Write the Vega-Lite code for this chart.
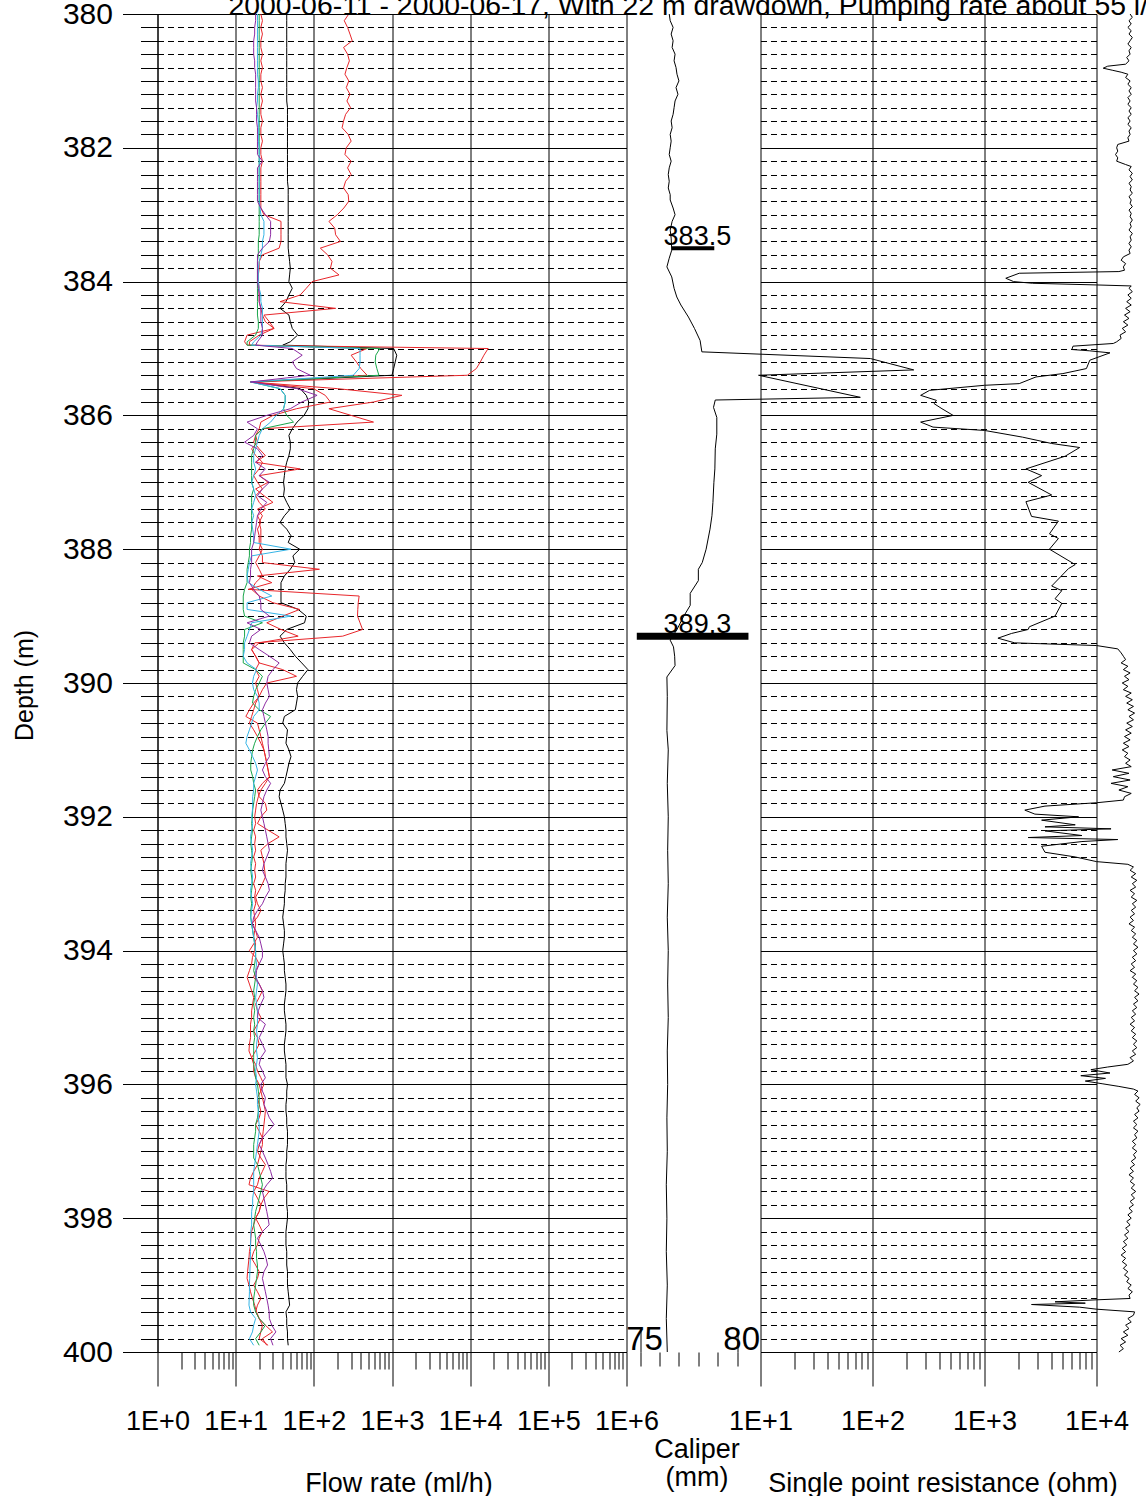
{
"$schema":"https://vega.github.io/schema/vega-lite/v6.json",
"background":"white",
"padding":{"left":11.5,"top":-9,"right":0,"bottom":0},
"title":{"text":"2000-06-11 - 2000-06-17, With 22 m drawdown, Pumping rate about 55 l/min","anchor":"start","frame":"group","dx":71,"offset":-44,"baseline":"alphabetic","fontSize":28.4,"fontWeight":"normal","font":"Liberation Sans","color":"black"},
"config":{"view":{"stroke":null},"font":"Liberation Sans","axis":{"labelFont":"Liberation Sans","titleFont":"Liberation Sans","labelColor":"black","titleColor":"black","tickColor":"black","domainColor":"black","gridColor":"black","gridOpacity":1,"titleFontWeight":"normal","labelFlush":false,"labelOverlap":false,"tickWidth":1,"domainWidth":1,"gridWidth":1}},
"datasets":{
"flow":[
{"d":380.0,"k":45,"ra":280,"rb":21,"g":20,"c":19,"p":18},
{"d":380.1,"k":45,"ra":245,"rb":22,"g":20,"c":19,"p":18},
{"d":380.2,"k":45,"ra":270,"rb":21,"g":20,"c":19,"p":17.5},
{"d":380.3,"k":45,"ra":290,"rb":22,"g":20,"c":19,"p":17.5},
{"d":380.4,"k":45,"ra":310,"rb":21,"g":20,"c":19,"p":17},
{"d":380.5,"k":45,"ra":240,"rb":21,"g":20,"c":19,"p":17},
{"d":380.6,"k":45,"ra":270,"rb":22,"g":20,"c":19,"p":17},
{"d":380.7,"k":45,"ra":285,"rb":21,"g":20,"c":19,"p":17.5},
{"d":380.8,"k":45,"ra":265,"rb":22,"g":20,"c":19,"p":17.5},
{"d":380.9,"k":45,"ra":250,"rb":21,"g":20,"c":19,"p":18},
{"d":381.0,"k":45,"ra":280,"rb":21,"g":20,"c":19.5,"p":18},
{"d":381.1,"k":45,"ra":260,"rb":22,"g":20,"c":19.5,"p":18},
{"d":381.2,"k":45,"ra":290,"rb":21,"g":20,"c":19,"p":18},
{"d":381.3,"k":45,"ra":265,"rb":22,"g":20,"c":19,"p":18},
{"d":381.4,"k":46,"ra":295,"rb":21,"g":20,"c":18.5,"p":18.5},
{"d":381.5,"k":46,"ra":255,"rb":21,"g":20,"c":19,"p":18.5},
{"d":381.6,"k":46,"ra":240,"rb":22,"g":20,"c":19.5,"p":18.5},
{"d":381.7,"k":46,"ra":230,"rb":21,"g":20,"c":19.5,"p":19},
{"d":381.8,"k":46,"ra":275,"rb":21,"g":20,"c":19.5,"p":19},
{"d":381.9,"k":46,"ra":300,"rb":22,"g":20,"c":19.5,"p":19},
{"d":382.0,"k":46,"ra":260,"rb":21,"g":20,"c":20,"p":19},
{"d":382.1,"k":46,"ra":250,"rb":21,"g":20,"c":20,"p":19},
{"d":382.2,"k":46,"ra":300,"rb":22,"g":20,"c":20,"p":22},
{"d":382.3,"k":46,"ra":270,"rb":21,"g":20,"c":20,"p":19},
{"d":382.4,"k":46,"ra":300,"rb":21,"g":20,"c":20,"p":19},
{"d":382.5,"k":46,"ra":255,"rb":21,"g":20,"c":20,"p":19},
{"d":382.6,"k":47,"ra":240,"rb":21,"g":20,"c":20,"p":19},
{"d":382.7,"k":47,"ra":275,"rb":21,"g":20,"c":20,"p":19},
{"d":382.8,"k":47,"ra":280,"rb":21,"g":20,"c":20,"p":19},
{"d":382.9,"k":47,"ra":242,"rb":21,"g":20,"c":20.5,"p":21},
{"d":383.0,"k":47,"ra":200,"rb":23,"g":20,"c":21,"p":24},
{"d":383.1,"k":47,"ra":156,"rb":38,"g":20,"c":23,"p":28},
{"d":383.2,"k":47,"ra":185,"rb":38,"g":20,"c":23,"p":28},
{"d":383.3,"k":47,"ra":190,"rb":38,"g":20,"c":23,"p":28},
{"d":383.4,"k":47,"ra":219,"rb":38,"g":19.5,"c":22,"p":27},
{"d":383.5,"k":47,"ra":121,"rb":36,"g":19.5,"c":22,"p":22},
{"d":383.6,"k":48,"ra":150,"rb":22,"g":19.5,"c":21,"p":19},
{"d":383.7,"k":49,"ra":171,"rb":20,"g":19,"c":20,"p":19},
{"d":383.8,"k":50,"ra":163,"rb":20,"g":19,"c":19.5,"p":19},
{"d":383.9,"k":49,"ra":210,"rb":19.5,"g":19,"c":19.5,"p":19},
{"d":384.0,"k":48,"ra":95,"rb":19.5,"g":19,"c":19.5,"p":19},
{"d":384.1,"k":53,"ra":80,"rb":20,"g":19,"c":20,"p":19.5},
{"d":384.2,"k":48,"ra":67,"rb":20,"g":19,"c":21,"p":20},
{"d":384.3,"k":44,"ra":37,"rb":20,"g":19,"c":21,"p":20},
{"d":384.4,"k":37,"ra":190,"rb":21,"g":19,"c":22,"p":21},
{"d":384.5,"k":48,"ra":23,"rb":22,"g":19,"c":22,"p":21},
{"d":384.6,"k":50,"ra":27,"rb":24,"g":19.5,"c":22,"p":21},
{"d":384.7,"k":53,"ra":31,"rb":31,"g":19.5,"c":22,"p":22},
{"d":384.8,"k":62,"ra":14,"rb":20,"g":18,"c":21,"p":22},
{"d":384.9,"k":50,"ra":13,"rb":15,"g":14,"c":17,"p":19},
{"d":384.95,"k":40,"ra":14,"rb":15,"g":14,"c":16,"p":18},
{"d":385.0,"k":1050,"ra":17000,"rb":480,"g":700,"c":390,"p":53},
{"d":385.1,"k":1150,"ra":15000,"rb":300,"g":620,"c":390,"p":71},
{"d":385.2,"k":1100,"ra":13500,"rb":350,"g":610,"c":390,"p":53},
{"d":385.3,"k":1050,"ra":12000,"rb":400,"g":640,"c":380,"p":60},
{"d":385.4,"k":1000,"ra":9200,"rb":480,"g":680,"c":320,"p":90},
{"d":385.5,"k":16,"ra":15.5,"rb":15.5,"g":15.5,"c":15.5,"p":15.5},
{"d":385.6,"k":67,"ra":200,"rb":99,"g":37,"c":37,"p":61},
{"d":385.7,"k":80,"ra":1340,"rb":140,"g":43,"c":43,"p":110},
{"d":385.8,"k":86,"ra":580,"rb":163,"g":43,"c":43,"p":70},
{"d":385.9,"k":84,"ra":156,"rb":60,"g":41,"c":41,"p":50},
{"d":386.0,"k":75,"ra":300,"rb":30,"g":45,"c":33,"p":25},
{"d":386.1,"k":61,"ra":580,"rb":21,"g":55,"c":28,"p":14},
{"d":386.2,"k":53,"ra":22,"rb":20,"g":22,"c":22,"p":19},
{"d":386.3,"k":48,"ra":18,"rb":18,"g":18,"c":20,"p":17},
{"d":386.4,"k":50,"ra":17,"rb":19,"g":18,"c":19,"p":13},
{"d":386.5,"k":50,"ra":20,"rb":16,"g":17,"c":18,"p":19},
{"d":386.6,"k":48,"ra":24,"rb":18,"g":16,"c":17,"p":22},
{"d":386.7,"k":45,"ra":18,"rb":22,"g":16,"c":17,"p":18},
{"d":386.8,"k":43,"ra":67,"rb":20,"g":16,"c":18,"p":24},
{"d":386.9,"k":42,"ra":20,"rb":17,"g":16,"c":17,"p":20},
{"d":387.0,"k":41,"ra":26,"rb":19,"g":16,"c":16,"p":27},
{"d":387.1,"k":42,"ra":18,"rb":22,"g":17,"c":17,"p":22},
{"d":387.2,"k":41,"ra":23,"rb":18,"g":16,"c":18,"p":19},
{"d":387.3,"k":45,"ra":30,"rb":20,"g":16,"c":17,"p":25},
{"d":387.4,"k":50,"ra":19,"rb":24,"g":16,"c":16,"p":21},
{"d":387.5,"k":42,"ra":22,"rb":19,"g":16,"c":17,"p":19},
{"d":387.6,"k":37,"ra":20,"rb":21,"g":16,"c":16,"p":18.5},
{"d":387.7,"k":45,"ra":21,"rb":19,"g":16,"c":16.5,"p":18},
{"d":387.8,"k":51,"ra":21,"rb":20,"g":15.5,"c":17,"p":17.5},
{"d":387.9,"k":47,"ra":21,"rb":20,"g":15.5,"c":17,"p":17},
{"d":388.0,"k":66,"ra":20,"rb":22,"g":15,"c":51,"p":16},
{"d":388.1,"k":54,"ra":22,"rb":20,"g":15,"c":16,"p":16},
{"d":388.2,"k":57,"ra":22,"rb":18,"g":14.5,"c":15,"p":16},
{"d":388.3,"k":50,"ra":118,"rb":20,"g":14,"c":14.5,"p":15.5},
{"d":388.4,"k":42,"ra":19,"rb":22,"g":14,"c":14,"p":15.5},
{"d":388.5,"k":38,"ra":29,"rb":18,"g":14,"c":14.5,"p":15},
{"d":388.6,"k":38,"ra":14.5,"rb":16,"g":13,"c":20,"p":17},
{"d":388.7,"k":38,"ra":380,"rb":20,"g":12.5,"c":29,"p":20},
{"d":388.8,"k":38,"ra":370,"rb":30,"g":12.5,"c":14,"p":21},
{"d":388.9,"k":63,"ra":365,"rb":66,"g":12.5,"c":14,"p":21},
{"d":389.0,"k":80,"ra":362,"rb":40,"g":13,"c":51,"p":27},
{"d":389.1,"k":76,"ra":390,"rb":25,"g":22,"c":16,"p":14},
{"d":389.2,"k":45,"ra":420,"rb":38,"g":13,"c":15,"p":21},
{"d":389.3,"k":37,"ra":234,"rb":63,"g":13,"c":14,"p":16},
{"d":389.4,"k":42,"ra":17.6,"rb":20,"g":12.5,"c":13,"p":15},
{"d":389.5,"k":50,"ra":16,"rb":16,"g":12.5,"c":13,"p":20},
{"d":389.6,"k":58,"ra":18,"rb":18,"g":12.5,"c":12.5,"p":27},
{"d":389.7,"k":70,"ra":20,"rb":20,"g":12.5,"c":14,"p":36},
{"d":389.8,"k":84,"ra":18,"rb":40,"g":18,"c":18.5,"p":30},
{"d":389.9,"k":72,"ra":20,"rb":60,"g":22,"c":17,"p":26},
{"d":390.0,"k":62,"ra":18,"rb":25,"g":20,"c":16.4,"p":25},
{"d":390.1,"k":60,"ra":19,"rb":22,"g":18,"c":17,"p":26},
{"d":390.2,"k":62,"ra":20,"rb":20,"g":17,"c":19,"p":27},
{"d":390.3,"k":60,"ra":17,"rb":18,"g":16.4,"c":20,"p":24},
{"d":390.4,"k":58,"ra":15,"rb":17,"g":20,"c":20,"p":22},
{"d":390.5,"k":42,"ra":13.5,"rb":16,"g":28,"c":17,"p":23},
{"d":390.6,"k":40,"ra":19,"rb":15,"g":24,"c":16,"p":24},
{"d":390.7,"k":46,"ra":20,"rb":17,"g":21,"c":15,"p":25},
{"d":390.8,"k":45,"ra":21,"rb":19,"g":19,"c":14,"p":26},
{"d":390.9,"k":44,"ra":22,"rb":21,"g":17.5,"c":13.5,"p":26},
{"d":391.0,"k":48,"ra":23,"rb":23,"g":16.5,"c":15,"p":26.5},
{"d":391.1,"k":51,"ra":24,"rb":24,"g":16,"c":16.5,"p":27},
{"d":391.2,"k":48,"ra":25,"rb":25,"g":15.6,"c":18,"p":24},
{"d":391.3,"k":46,"ra":26,"rb":26,"g":15.6,"c":19,"p":22},
{"d":391.4,"k":44,"ra":27,"rb":27,"g":16.5,"c":18,"p":24},
{"d":391.5,"k":42,"ra":22,"rb":24,"g":17,"c":17,"p":28},
{"d":391.6,"k":37,"ra":19,"rb":21,"g":18,"c":17,"p":25},
{"d":391.7,"k":36,"ra":20,"rb":19.5,"g":17.5,"c":16.5,"p":23},
{"d":391.8,"k":38,"ra":24,"rb":18.5,"g":17,"c":16.5,"p":22},
{"d":391.9,"k":40,"ra":25,"rb":18,"g":16.5,"c":16.4,"p":21},
{"d":392.0,"k":42,"ra":21,"rb":17.5,"g":16.4,"c":16,"p":22},
{"d":392.1,"k":43,"ra":19,"rb":18,"g":16,"c":16.5,"p":23},
{"d":392.2,"k":44,"ra":26,"rb":17,"g":16.4,"c":16,"p":24},
{"d":392.3,"k":44,"ra":36,"rb":18,"g":16,"c":15.5,"p":25},
{"d":392.4,"k":45,"ra":26,"rb":17.5,"g":15.6,"c":16,"p":26},
{"d":392.5,"k":46,"ra":21,"rb":18,"g":16,"c":16.5,"p":27},
{"d":392.6,"k":45,"ra":22,"rb":17,"g":16.4,"c":16,"p":25},
{"d":392.7,"k":44,"ra":23,"rb":18,"g":16,"c":15.5,"p":23},
{"d":392.8,"k":44,"ra":23.5,"rb":17.5,"g":15.6,"c":16,"p":22},
{"d":392.9,"k":44,"ra":24,"rb":18,"g":16,"c":16.5,"p":24},
{"d":393.0,"k":43,"ra":22,"rb":17,"g":16.4,"c":16,"p":26},
{"d":393.1,"k":43,"ra":20,"rb":18,"g":16,"c":15.5,"p":27},
{"d":393.2,"k":42,"ra":18,"rb":17.5,"g":15.6,"c":16,"p":24},
{"d":393.3,"k":42,"ra":19,"rb":18,"g":16,"c":16.5,"p":22},
{"d":393.4,"k":41,"ra":21,"rb":17,"g":15.6,"c":16,"p":19},
{"d":393.5,"k":40,"ra":19,"rb":17.5,"g":15.6,"c":15.6,"p":17},
{"d":393.6,"k":41,"ra":16,"rb":18,"g":16,"c":16,"p":16.4},
{"d":393.7,"k":42,"ra":18,"rb":17.5,"g":16.5,"c":16.5,"p":18},
{"d":393.8,"k":42,"ra":19,"rb":17,"g":17,"c":17,"p":20},
{"d":393.9,"k":41,"ra":17,"rb":18,"g":17.5,"c":17.5,"p":21},
{"d":394.0,"k":40,"ra":15,"rb":17.5,"g":18,"c":18,"p":22},
{"d":394.1,"k":41,"ra":18,"rb":16.4,"g":18,"c":18,"p":22},
{"d":394.2,"k":42,"ra":20,"rb":16,"g":17.5,"c":18.5,"p":20},
{"d":394.3,"k":42,"ra":18,"rb":15,"g":17,"c":18,"p":18.5},
{"d":394.4,"k":43,"ra":17,"rb":14,"g":18,"c":18.5,"p":18},
{"d":394.5,"k":44,"ra":20,"rb":15,"g":17.5,"c":19,"p":20},
{"d":394.6,"k":44,"ra":22,"rb":16,"g":17,"c":18.5,"p":22},
{"d":394.7,"k":43,"ra":20,"rb":17,"g":17.5,"c":18,"p":23},
{"d":394.8,"k":42,"ra":18,"rb":16.5,"g":17,"c":18.5,"p":21},
{"d":394.9,"k":42,"ra":19,"rb":16,"g":17.5,"c":19,"p":19.5},
{"d":395.0,"k":43,"ra":21,"rb":16,"g":17,"c":19,"p":19},
{"d":395.1,"k":44,"ra":19,"rb":15.5,"g":17.5,"c":19,"p":24},
{"d":395.2,"k":44,"ra":17,"rb":15.5,"g":17,"c":18.5,"p":22},
{"d":395.3,"k":43,"ra":19,"rb":15.5,"g":17.5,"c":19,"p":20},
{"d":395.4,"k":42,"ra":20,"rb":15,"g":17,"c":18.5,"p":22},
{"d":395.5,"k":42,"ra":18,"rb":14.8,"g":17,"c":18.5,"p":24},
{"d":395.6,"k":43,"ra":16,"rb":16,"g":17,"c":19,"p":21},
{"d":395.7,"k":44,"ra":18,"rb":17,"g":17,"c":18.5,"p":20},
{"d":395.8,"k":44,"ra":19,"rb":17,"g":17.5,"c":18,"p":22},
{"d":395.9,"k":44,"ra":21,"rb":18,"g":18,"c":18.5,"p":24},
{"d":396.0,"k":46,"ra":23,"rb":20,"g":19,"c":18,"p":21},
{"d":396.1,"k":45,"ra":21,"rb":21,"g":19.5,"c":18.5,"p":22},
{"d":396.2,"k":45,"ra":19,"rb":22,"g":20,"c":19,"p":24},
{"d":396.3,"k":44,"ra":20,"rb":23,"g":20,"c":19,"p":23},
{"d":396.4,"k":44,"ra":21,"rb":24,"g":19.5,"c":19.5,"p":25},
{"d":396.5,"k":45,"ra":20,"rb":23.5,"g":19,"c":19.5,"p":27},
{"d":396.6,"k":45,"ra":18,"rb":23,"g":18,"c":20,"p":31},
{"d":396.7,"k":46,"ra":20,"rb":22.5,"g":18,"c":20,"p":26},
{"d":396.8,"k":46,"ra":22,"rb":22,"g":17.5,"c":19.5,"p":22},
{"d":396.9,"k":46,"ra":20,"rb":22,"g":17,"c":19,"p":20},
{"d":397.0,"k":45,"ra":19,"rb":21,"g":17,"c":18.5,"p":22},
{"d":397.1,"k":45,"ra":21,"rb":20,"g":17,"c":18,"p":24},
{"d":397.2,"k":44,"ra":24,"rb":19,"g":19,"c":17.5,"p":26},
{"d":397.3,"k":44,"ra":22,"rb":17,"g":20,"c":17,"p":28},
{"d":397.4,"k":44,"ra":20,"rb":15.5,"g":21,"c":17,"p":29.6},
{"d":397.5,"k":45,"ra":19,"rb":14.8,"g":22,"c":17,"p":25},
{"d":397.6,"k":45,"ra":17,"rb":26.8,"g":21,"c":17,"p":22},
{"d":397.7,"k":45,"ra":19,"rb":23,"g":20,"c":16.5,"p":23},
{"d":397.8,"k":45,"ra":21,"rb":21,"g":19,"c":16.5,"p":24},
{"d":397.9,"k":46,"ra":20,"rb":20,"g":18,"c":16,"p":25},
{"d":398.0,"k":46,"ra":18,"rb":18,"g":17.5,"c":16,"p":26},
{"d":398.1,"k":45,"ra":20,"rb":17,"g":17,"c":16,"p":26.8},
{"d":398.2,"k":44,"ra":22,"rb":16,"g":17.5,"c":15.6,"p":22},
{"d":398.3,"k":44,"ra":20,"rb":15.6,"g":18,"c":15.6,"p":19},
{"d":398.4,"k":44,"ra":19,"rb":15.5,"g":18,"c":15.5,"p":21},
{"d":398.5,"k":45,"ra":17,"rb":15,"g":18.5,"c":15.5,"p":23},
{"d":398.6,"k":45,"ra":16,"rb":14.8,"g":18.5,"c":15.4,"p":24.5},
{"d":398.7,"k":45,"ra":18,"rb":14.5,"g":19,"c":15.3,"p":25.6},
{"d":398.8,"k":46,"ra":20,"rb":14.2,"g":19,"c":15.2,"p":23},
{"d":398.9,"k":46,"ra":19,"rb":14,"g":18.5,"c":15.1,"p":22},
{"d":399.0,"k":46,"ra":17,"rb":14.8,"g":18,"c":15,"p":23},
{"d":399.1,"k":47,"ra":19,"rb":15.5,"g":17.5,"c":15,"p":24},
{"d":399.2,"k":48,"ra":21,"rb":16.4,"g":17,"c":14.9,"p":25},
{"d":399.3,"k":49,"ra":19,"rb":17.5,"g":17,"c":14.8,"p":26},
{"d":399.4,"k":44,"ra":18,"rb":18.5,"g":18,"c":15.5,"p":26.8},
{"d":399.5,"k":45,"ra":20,"rb":20,"g":20,"c":18,"p":27},
{"d":399.6,"k":45,"ra":22,"rb":24,"g":24,"c":17,"p":29},
{"d":399.7,"k":46,"ra":21,"rb":29.6,"g":21,"c":16.4,"p":32.7},
{"d":399.8,"k":46,"ra":20,"rb":22,"g":18,"c":15,"p":28},
{"d":399.9,"k":47,"ra":26,"rb":25,"g":20,"c":17,"p":30}
],
"spr":[
{"d":380.00,"r":19953},{"d":380.05,"r":20893},{"d":380.10,"r":19498},{"d":380.15,"r":20417},{"d":380.20,"r":19055},{"d":380.25,"r":20417},{"d":380.30,"r":19498},{"d":380.35,"r":20893},{"d":380.40,"r":19953},{"d":380.45,"r":19055},{"d":380.50,"r":20417},{"d":380.55,"r":19498},{"d":380.60,"r":19953},{"d":380.65,"r":18621},{"d":380.70,"r":19498},{"d":380.75,"r":18197},{"d":380.78,"r":12589},{"d":380.81,"r":11482},{"d":380.84,"r":13804},{"d":380.87,"r":16596},{"d":380.90,"r":19055},{"d":380.95,"r":18197},
{"d":381.00,"r":19953},{"d":381.05,"r":19055},{"d":381.10,"r":20417},{"d":381.15,"r":19498},{"d":381.20,"r":20417},{"d":381.25,"r":19055},{"d":381.30,"r":19953},{"d":381.35,"r":19055},{"d":381.40,"r":20417},{"d":381.45,"r":19498},{"d":381.50,"r":20417},{"d":381.55,"r":19055},{"d":381.60,"r":19953},{"d":381.65,"r":19055},{"d":381.70,"r":20417},{"d":381.75,"r":19498},{"d":381.80,"r":19953},{"d":381.85,"r":19055},{"d":381.90,"r":19498},{"d":381.95,"r":15488},
{"d":382.00,"r":15136},{"d":382.05,"r":15488},{"d":382.10,"r":14791},{"d":382.15,"r":15488},{"d":382.20,"r":15136},{"d":382.25,"r":18197},{"d":382.28,"r":20417},{"d":382.33,"r":19498},{"d":382.38,"r":20893},{"d":382.43,"r":19953},{"d":382.48,"r":20893},{"d":382.53,"r":19498},{"d":382.58,"r":20417},{"d":382.63,"r":19953},{"d":382.68,"r":20893},{"d":382.73,"r":19498},{"d":382.78,"r":20417},{"d":382.83,"r":19953},{"d":382.88,"r":20893},{"d":382.93,"r":19498},{"d":382.98,"r":20417},
{"d":383.03,"r":19953},{"d":383.08,"r":20893},{"d":383.13,"r":19953},{"d":383.18,"r":20417},{"d":383.23,"r":19498},{"d":383.28,"r":20893},{"d":383.33,"r":19953},{"d":383.38,"r":20417},{"d":383.43,"r":19498},{"d":383.48,"r":20417},{"d":383.53,"r":19498},{"d":383.58,"r":19953},{"d":383.63,"r":17378},{"d":383.68,"r":16596},{"d":383.73,"r":18197},{"d":383.78,"r":17378},{"d":383.83,"r":17783},{"d":383.85,"r":15849},{"d":383.875,"r":2042},{"d":383.95,"r":1549},
{"d":384.00,"r":1820},{"d":384.025,"r":2692},{"d":384.05,"r":10000},{"d":384.065,"r":20417},{"d":384.10,"r":19498},{"d":384.15,"r":20893},{"d":384.20,"r":19055},{"d":384.25,"r":20417},{"d":384.30,"r":18621},{"d":384.35,"r":20417},{"d":384.40,"r":18197},{"d":384.45,"r":19953},{"d":384.50,"r":17783},{"d":384.55,"r":19498},{"d":384.60,"r":17378},{"d":384.65,"r":19055},{"d":384.70,"r":16982},{"d":384.75,"r":18197},{"d":384.80,"r":16218},{"d":384.85,"r":16596},{"d":384.90,"r":15136},{"d":384.925,"r":14125},{"d":384.965,"r":6166},
{"d":385.015,"r":6026},{"d":385.035,"r":8710},{"d":385.065,"r":13183},{"d":385.175,"r":8710},{"d":385.30,"r":8128},{"d":385.375,"r":5012},{"d":385.425,"r":2884},{"d":385.525,"r":2042},{"d":385.55,"r":1000},{"d":385.625,"r":324},{"d":385.70,"r":269},{"d":385.775,"r":372},{"d":385.825,"r":355},{"d":385.90,"r":417},
{"d":386.00,"r":525},{"d":386.10,"r":269},{"d":386.175,"r":347},{"d":386.225,"r":1000},{"d":386.325,"r":2188},{"d":386.42,"r":3981},{"d":386.48,"r":7079},{"d":386.61,"r":5248},{"d":386.80,"r":2344},{"d":386.90,"r":3236},
{"d":387.00,"r":2455},{"d":387.19,"r":3981},{"d":387.29,"r":2344},{"d":387.51,"r":2630},{"d":387.58,"r":4571},{"d":387.77,"r":3802},{"d":387.84,"r":4571},
{"d":388.00,"r":3802},{"d":388.23,"r":6457},{"d":388.29,"r":5623},{"d":388.55,"r":3981},{"d":388.62,"r":4898},{"d":388.74,"r":4266},{"d":388.81,"r":4898},
{"d":389.00,"r":4266},{"d":389.16,"r":2512},{"d":389.20,"r":2455},{"d":389.26,"r":1738},{"d":389.33,"r":1318},{"d":389.40,"r":1862},{"d":389.44,"r":10000},{"d":389.49,"r":15488},{"d":389.55,"r":16596},{"d":389.60,"r":17378},{"d":389.65,"r":18197},{"d":389.70,"r":16596},{"d":389.75,"r":19055},{"d":389.80,"r":17378},{"d":389.85,"r":19953},{"d":389.90,"r":17783},{"d":389.95,"r":19498},
{"d":390.00,"r":16982},{"d":390.05,"r":19055},{"d":390.10,"r":17378},{"d":390.15,"r":20417},{"d":390.20,"r":18197},{"d":390.25,"r":20893},{"d":390.30,"r":18621},{"d":390.35,"r":21380},{"d":390.40,"r":19055},{"d":390.45,"r":21878},{"d":390.50,"r":19498},{"d":390.55,"r":21380},{"d":390.60,"r":18621},{"d":390.65,"r":20893},{"d":390.70,"r":18197},{"d":390.75,"r":20417},{"d":390.80,"r":17783},{"d":390.85,"r":19953},{"d":390.90,"r":17378},{"d":390.95,"r":19498},
{"d":391.00,"r":16982},{"d":391.05,"r":19055},{"d":391.10,"r":17783},{"d":391.15,"r":19953},{"d":391.20,"r":18197},{"d":391.25,"r":20417},{"d":391.30,"r":13804},{"d":391.35,"r":19498},{"d":391.40,"r":14125},{"d":391.45,"r":19953},{"d":391.50,"r":13490},{"d":391.55,"r":19055},{"d":391.60,"r":15849},{"d":391.65,"r":20417},{"d":391.70,"r":17783},{"d":391.75,"r":17378},{"d":391.79,"r":10000},{"d":391.84,"r":3467},{"d":391.90,"r":2291},{"d":391.96,"r":2818},
{"d":392.00,"r":6918},{"d":392.05,"r":3236},{"d":392.12,"r":6457},{"d":392.15,"r":3467},{"d":392.18,"r":13490},{"d":392.21,"r":3467},{"d":392.28,"r":7413},{"d":392.31,"r":2455},{"d":392.34,"r":15488},{"d":392.37,"r":7413},{"d":392.44,"r":3236},{"d":392.53,"r":3467},{"d":392.60,"r":6457},{"d":392.67,"r":10000},{"d":392.71,"r":19055},{"d":392.75,"r":21380},{"d":392.80,"r":19953},{"d":392.85,"r":22387},{"d":392.90,"r":20417},{"d":392.95,"r":22909},
{"d":393.00,"r":20893},{"d":393.05,"r":22387},{"d":393.10,"r":19953},{"d":393.15,"r":21878},{"d":393.20,"r":20417},{"d":393.25,"r":22909},{"d":393.30,"r":20893},{"d":393.35,"r":22387},{"d":393.40,"r":20417},{"d":393.45,"r":21878},{"d":393.50,"r":19953},{"d":393.55,"r":21380},{"d":393.60,"r":19498},{"d":393.65,"r":21878},{"d":393.70,"r":20417},{"d":393.75,"r":22387},{"d":393.80,"r":20893},{"d":393.85,"r":22909},{"d":393.90,"r":21380},{"d":393.95,"r":23442},
{"d":394.00,"r":21380},{"d":394.05,"r":22909},{"d":394.10,"r":20893},{"d":394.15,"r":22387},{"d":394.20,"r":20417},{"d":394.25,"r":21878},{"d":394.30,"r":19953},{"d":394.35,"r":22387},{"d":394.40,"r":20893},{"d":394.45,"r":22909},{"d":394.50,"r":21380},{"d":394.55,"r":23442},{"d":394.60,"r":21878},{"d":394.65,"r":23988},{"d":394.70,"r":21878},{"d":394.75,"r":23442},{"d":394.80,"r":21380},{"d":394.85,"r":22909},{"d":394.90,"r":20893},{"d":394.95,"r":22387},
{"d":395.00,"r":20417},{"d":395.05,"r":21878},{"d":395.10,"r":19953},{"d":395.15,"r":21878},{"d":395.20,"r":20417},{"d":395.25,"r":22387},{"d":395.30,"r":20893},{"d":395.35,"r":22909},{"d":395.40,"r":21380},{"d":395.45,"r":22909},{"d":395.50,"r":20893},{"d":395.55,"r":22387},{"d":395.60,"r":19953},{"d":395.65,"r":21380},{"d":395.70,"r":19055},{"d":395.74,"r":12589},{"d":395.78,"r":8913},{"d":395.83,"r":13183},{"d":395.87,"r":7244},{"d":395.91,"r":12023},{"d":395.95,"r":7943},{"d":395.99,"r":11220},
{"d":396.03,"r":15849},{"d":396.07,"r":21380},{"d":396.10,"r":23442},{"d":396.15,"r":21878},{"d":396.20,"r":23988},{"d":396.25,"r":22387},{"d":396.30,"r":24547},{"d":396.35,"r":22909},{"d":396.40,"r":23988},{"d":396.45,"r":21878},{"d":396.50,"r":23442},{"d":396.55,"r":21380},{"d":396.60,"r":22909},{"d":396.65,"r":21380},{"d":396.70,"r":23442},{"d":396.75,"r":21878},{"d":396.80,"r":22909},{"d":396.85,"r":20893},{"d":396.90,"r":22387},{"d":396.95,"r":20893},
{"d":397.00,"r":22909},{"d":397.05,"r":21380},{"d":397.10,"r":22387},{"d":397.15,"r":20417},{"d":397.20,"r":21878},{"d":397.25,"r":19953},{"d":397.30,"r":21380},{"d":397.35,"r":19498},{"d":397.40,"r":21380},{"d":397.45,"r":19953},{"d":397.50,"r":21878},{"d":397.55,"r":20417},{"d":397.60,"r":22387},{"d":397.65,"r":20417},{"d":397.70,"r":21878},{"d":397.75,"r":19953},{"d":397.80,"r":21380},{"d":397.85,"r":19498},{"d":397.90,"r":20893},{"d":397.95,"r":19055},
{"d":398.00,"r":20417},{"d":398.05,"r":18621},{"d":398.10,"r":19953},{"d":398.15,"r":18197},{"d":398.20,"r":19498},{"d":398.25,"r":17783},{"d":398.30,"r":19055},{"d":398.35,"r":17378},{"d":398.40,"r":18621},{"d":398.45,"r":16982},{"d":398.50,"r":18197},{"d":398.55,"r":16596},{"d":398.60,"r":18197},{"d":398.65,"r":16982},{"d":398.70,"r":18621},{"d":398.75,"r":17378},{"d":398.80,"r":19055},{"d":398.85,"r":17783},{"d":398.90,"r":19498},{"d":398.95,"r":18621},
{"d":399.00,"r":20417},{"d":399.05,"r":19055},{"d":399.10,"r":20893},{"d":399.15,"r":19498},{"d":399.20,"r":19953},{"d":399.22,"r":10000},{"d":399.25,"r":4266},{"d":399.27,"r":7943},{"d":399.29,"r":2630},{"d":399.33,"r":7079},{"d":399.36,"r":10000},{"d":399.40,"r":21878},{"d":399.45,"r":21380},{"d":399.50,"r":19055},{"d":399.55,"r":20417},{"d":399.60,"r":18197},{"d":399.65,"r":19498},{"d":399.70,"r":17378},{"d":399.75,"r":19055},{"d":399.80,"r":16596},{"d":399.85,"r":18197},{"d":399.90,"r":16218},{"d":399.95,"r":17378},{"d":400.00,"r":15849}
],
"cal":[
{"d":380.0,"c":76.5},{"d":380.1,"c":76.55},{"d":380.2,"c":76.7},{"d":380.3,"c":76.6},{"d":380.4,"c":76.7},{"d":380.5,"c":76.65},{"d":380.6,"c":76.8},{"d":380.7,"c":76.75},{"d":380.8,"c":76.85},{"d":380.9,"c":76.9},{"d":381.0,"c":77.0},{"d":381.1,"c":76.85},{"d":381.2,"c":76.95},{"d":381.3,"c":76.8},{"d":381.4,"c":76.75},{"d":381.5,"c":76.7},{"d":381.6,"c":76.6},{"d":381.7,"c":76.65},{"d":381.8,"c":76.55},{"d":381.9,"c":76.6},{"d":382.0,"c":76.55},{"d":382.1,"c":76.5},{"d":382.2,"c":76.6},{"d":382.3,"c":76.5},{"d":382.4,"c":76.45},{"d":382.5,"c":76.5},{"d":382.6,"c":76.45},{"d":382.7,"c":76.55},{"d":382.78,"c":76.55},{"d":382.9,"c":76.7},{"d":383.0,"c":76.8},{"d":383.1,"c":76.65},{"d":383.23,"c":76.55},{"d":383.35,"c":76.6},{"d":383.53,"c":76.63},{"d":383.65,"c":76.5},{"d":383.78,"c":76.38},{"d":383.93,"c":76.63},{"d":384.1,"c":76.75},{"d":384.23,"c":76.89},{"d":384.35,"c":77.1},{"d":384.53,"c":77.49},{"d":384.7,"c":77.8},{"d":384.88,"c":78.09},{"d":385.05,"c":78.18},{"d":385.15,"c":86.86},{"d":385.32,"c":89.09},{"d":385.40,"c":81.10},{"d":385.73,"c":86.34},{"d":385.77,"c":78.87},{"d":385.88,"c":78.78},{"d":386.03,"c":78.95},{"d":386.28,"c":78.95},{"d":386.5,"c":78.87},{"d":386.8,"c":78.85},{"d":387.0,"c":78.8},{"d":387.3,"c":78.75},{"d":387.5,"c":78.7},{"d":387.7,"c":78.6},{"d":388.0,"c":78.4},{"d":388.2,"c":78.2},{"d":388.3,"c":78.0},{"d":388.47,"c":78.0},{"d":388.66,"c":77.58},{"d":388.84,"c":77.58},{"d":389.01,"c":77.23},{"d":389.2,"c":76.9},{"d":389.36,"c":76.55},{"d":389.46,"c":76.72},{"d":389.6,"c":76.78},{"d":389.74,"c":76.8},{"d":389.91,"c":76.38},{"d":390.2,"c":76.4},{"d":390.71,"c":76.38},{"d":391.0,"c":76.45},{"d":391.5,"c":76.4},{"d":392.0,"c":76.45},{"d":392.5,"c":76.42},{"d":393.0,"c":76.45},{"d":393.5,"c":76.4},{"d":394.0,"c":76.45},{"d":394.5,"c":76.42},{"d":395.0,"c":76.45},{"d":395.5,"c":76.4},{"d":396.0,"c":76.42},{"d":396.5,"c":76.38},{"d":397.0,"c":76.4},{"d":397.5,"c":76.35},{"d":398.0,"c":76.38},{"d":398.5,"c":76.35},{"d":399.0,"c":76.4},{"d":399.5,"c":76.35},{"d":400.0,"c":76.4}
],
"ann":[{"d":383.5,"c1":76.63,"c2":78.82,"label":"383.5"},{"d":389.3,"c1":74.83,"c2":80.58,"label":"389.3"}]
},
"spacing":0,
"bounds":"flush",
"hconcat":[
{
"width":469,"height":1338,
"layer":[
{"data":{"name":"flow"},
 "transform":[{"fold":["k","ra","rb","g","c","p"],"as":["series","v"]}],
 "mark":{"type":"line","strokeWidth":1},
 "encoding":{
  "x":{"field":"v","type":"quantitative","scale":{"type":"log","domain":[1,1000000],"nice":false},
   "axis":{"orient":"bottom","values":[1,10,100,1000,10000,100000,1000000],"labelExpr":"'1E+' + round(log(datum.value)/LN10)","tickSize":34,"labelPadding":22,"labelFontSize":27,"grid":true,"title":"Flow rate (ml/h)","titleFontSize":27,"titleX":241,"titleY":118,"titleBaseline":"top","titleAlign":"center"}},
  "y":{"field":"d","type":"quantitative","scale":{"domain":[380,400],"reverse":true,"nice":false,"zero":false},
   "axis":{"orient":"left","values":[380,382,384,386,388,390,392,394,396,398,400],"format":"d","tickSize":35,"labelPadding":10,"labelFontSize":30,"labelBaseline":"middle","grid":true,"title":"Depth (m)","titleFontSize":25,"titleAngle":270,"titleX":-125.5,"titleY":671,"titleBaseline":"alphabetic","titleAlign":"center"}},
  "color":{"field":"series","type":"nominal","scale":{"domain":["k","ra","rb","g","c","p"],"range":["#000000","#e8262b","#e8262b","#1aa64b","#35b4e6","#8e2ca3"]},"legend":null},
  "order":{"field":"d","type":"quantitative"}
 }},
{"mark":{"type":"point","opacity":0},
 "encoding":{
  "x":{"datum":1,"type":"quantitative","scale":{"type":"log","domain":[1,1000000],"nice":false},
   "axis":{"orient":"bottom","values":[2,3,4,5,6,7,8,9,20,30,40,50,60,70,80,90,200,300,400,500,600,700,800,900,2000,3000,4000,5000,6000,7000,8000,9000,20000,30000,40000,50000,60000,70000,80000,90000,200000,300000,400000,500000,600000,700000,800000,900000],"tickSize":17,"labels":false,"domain":false,"grid":false,"title":null}},
  "y":{"datum":380,"type":"quantitative","scale":{"domain":[380,400],"reverse":true,"nice":false,"zero":false},
   "axis":{"orient":"left","values":[380.2,380.4,380.6,380.8,381,381.2,381.4,381.6,381.8,382.2,382.4,382.6,382.8,383,383.2,383.4,383.6,383.8,384.2,384.4,384.6,384.8,385,385.2,385.4,385.6,385.8,386.2,386.4,386.6,386.8,387,387.2,387.4,387.6,387.8,388.2,388.4,388.6,388.8,389,389.2,389.4,389.6,389.8,390.2,390.4,390.6,390.8,391,391.2,391.4,391.6,391.8,392.2,392.4,392.6,392.8,393,393.2,393.4,393.6,393.8,394.2,394.4,394.6,394.8,395,395.2,395.4,395.6,395.8,396.2,396.4,396.6,396.8,397,397.2,397.4,397.6,397.8,398.2,398.4,398.6,398.8,399,399.2,399.4,399.6,399.8],"tickSize":17,"labels":false,"domain":false,"grid":true,"gridDash":[6,4],"title":null}}
 }}
],
"resolve":{"axis":{"x":"independent","y":"independent"}}
},
{
"width":134,"height":1338,
"layer":[
{"data":{"name":"cal"},
 "mark":{"type":"line","strokeWidth":1,"color":"black"},
 "encoding":{
  "x":{"field":"c","type":"quantitative","scale":{"domain":[74.3,81.2],"nice":false,"zero":false},
   "axis":{"orient":"bottom","values":[75,76,77,78,79,80],"tickSize":14,"labels":false,"domain":false,"grid":false,"title":["Caliper","(mm)"],"titleFontSize":27,"titleLineHeight":28,"titleX":70,"titleY":84,"titleBaseline":"top","titleAlign":"center"}},
  "y":{"field":"d","type":"quantitative","scale":{"domain":[380,400],"reverse":true,"nice":false,"zero":false},"axis":null},
  "order":{"field":"d","type":"quantitative"}
 }},
{"mark":{"type":"point","opacity":0},
 "encoding":{
  "x":{"datum":75,"type":"quantitative","scale":{"domain":[74.3,81.2],"nice":false,"zero":false},
   "axis":{"orient":"bottom","values":[75,80],"tickSize":-22,"labels":false,"domain":false,"grid":false,"title":null}}
 }},
{"mark":{"type":"point","opacity":0},
 "encoding":{
  "x":{"datum":80,"type":"quantitative","scale":{"domain":[74.3,81.2],"nice":false,"zero":false},
   "axis":{"orient":"bottom","values":[75,80],"ticks":false,"labelPadding":-3,"labelOffset":4,"labelBaseline":"alphabetic","labelFontSize":33,"domain":false,"grid":false,"title":null}}
 }},
{"mark":{"type":"rule","color":"black","strokeWidth":1},
 "encoding":{
  "x":{"datum":75,"type":"quantitative","axis":null},
  "x2":{"datum":80},
  "y":{"datum":400,"type":"quantitative","axis":null}
 }},
{"data":{"name":"ann"},
 "transform":[{"filter":"datum.label == '383.5'"}],
 "mark":{"type":"rule","color":"black","strokeWidth":4},
 "encoding":{
  "x":{"field":"c1","type":"quantitative","axis":null},
  "x2":{"field":"c2"},
  "y":{"field":"d","type":"quantitative","axis":null}
 }},
{"data":{"name":"ann"},
 "transform":[{"filter":"datum.label == '389.3'"}],
 "mark":{"type":"rule","color":"black","strokeWidth":7},
 "encoding":{
  "x":{"field":"c1","type":"quantitative","axis":null},
  "x2":{"field":"c2"},
  "y":{"field":"d","type":"quantitative","axis":null}
 }},
{"data":{"name":"ann"},
 "mark":{"type":"text","fontSize":27,"align":"center","baseline":"alphabetic","dy":-3,"color":"black","font":"Liberation Sans"},
 "encoding":{
  "x":{"datum":77.95,"type":"quantitative","axis":null},
  "y":{"field":"d","type":"quantitative","axis":null},
  "text":{"field":"label"}
 }}
],
"resolve":{"axis":{"x":"independent","y":"independent"}}
},
{
"width":336,"height":1338,
"layer":[
{"data":{"name":"spr"},
 "mark":{"type":"line","strokeWidth":1,"color":"black"},
 "encoding":{
  "x":{"field":"r","type":"quantitative","scale":{"type":"log","domain":[10,10000],"nice":false},
   "axis":{"orient":"bottom","values":[10,100,1000,10000],"labelExpr":"'1E+' + round(log(datum.value)/LN10)","tickSize":34,"labelPadding":22,"labelFontSize":27,"grid":true,"title":"Single point resistance (ohm)","titleFontSize":27,"titleX":182,"titleY":118,"titleBaseline":"top","titleAlign":"center"}},
  "y":{"field":"d","type":"quantitative","scale":{"domain":[380,400],"reverse":true,"nice":false,"zero":false},
   "axis":{"orient":"left","values":[380,382,384,386,388,390,392,394,396,398,400],"ticks":false,"labels":false,"domain":false,"grid":true,"title":null}},
  "order":{"field":"d","type":"quantitative"}
 }},
{"mark":{"type":"point","opacity":0},
 "encoding":{
  "x":{"datum":10,"type":"quantitative","scale":{"type":"log","domain":[10,10000],"nice":false},
   "axis":{"orient":"bottom","values":[20,30,40,50,60,70,80,90,200,300,400,500,600,700,800,900,2000,3000,4000,5000,6000,7000,8000,9000],"tickSize":17,"labels":false,"domain":false,"grid":false,"title":null}},
  "y":{"datum":380,"type":"quantitative","scale":{"domain":[380,400],"reverse":true,"nice":false,"zero":false},
   "axis":{"orient":"left","values":[380.2,380.4,380.6,380.8,381,381.2,381.4,381.6,381.8,382.2,382.4,382.6,382.8,383,383.2,383.4,383.6,383.8,384.2,384.4,384.6,384.8,385,385.2,385.4,385.6,385.8,386.2,386.4,386.6,386.8,387,387.2,387.4,387.6,387.8,388.2,388.4,388.6,388.8,389,389.2,389.4,389.6,389.8,390.2,390.4,390.6,390.8,391,391.2,391.4,391.6,391.8,392.2,392.4,392.6,392.8,393,393.2,393.4,393.6,393.8,394.2,394.4,394.6,394.8,395,395.2,395.4,395.6,395.8,396.2,396.4,396.6,396.8,397,397.2,397.4,397.6,397.8,398.2,398.4,398.6,398.8,399,399.2,399.4,399.6,399.8],"ticks":false,"labels":false,"domain":false,"grid":true,"gridDash":[6,4],"title":null}}
 }}
],
"resolve":{"axis":{"x":"independent","y":"independent"}}
}
]
}
